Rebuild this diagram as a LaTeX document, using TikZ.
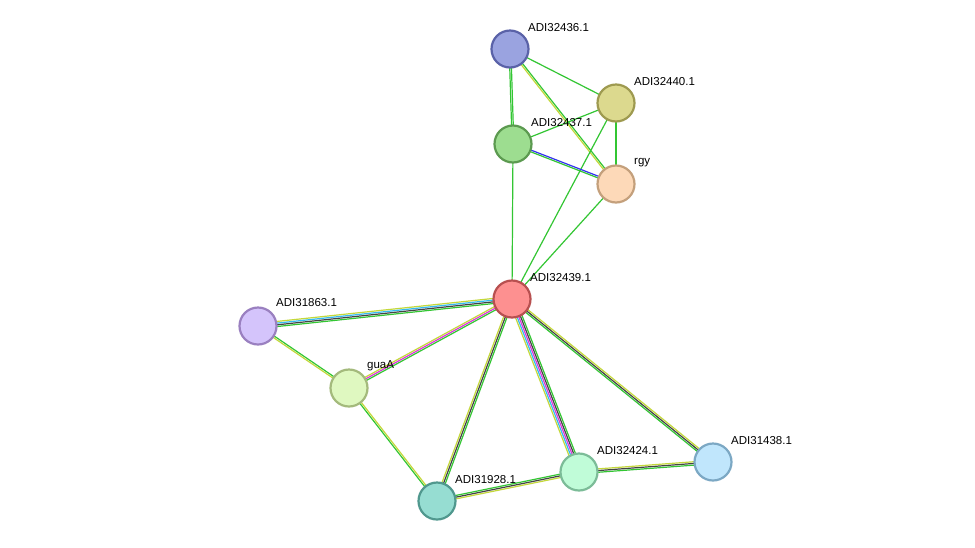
\documentclass[tikz,border=0pt]{standalone}
\usepackage{fontspec}
\setmainfont{Liberation Sans}
\usetikzlibrary{calc}
\definecolor{eg}{HTML}{33C633}
\definecolor{ek}{HTML}{444444}
\definecolor{ec}{HTML}{33BBEE}
\definecolor{em}{HTML}{DD33DD}
\definecolor{ey}{HTML}{C4D83A}
\definecolor{eb}{HTML}{3333EE}
\newcommand\edg[4]{%
  \foreach \cc [count=\i] in {#4} {%
    \pgfmathsetmacro\oo{(\i-(#3+1)/2)*1.7}%
    \draw[line width=1.2pt,\cc] ($(#1)!\oo pt!90:(#2)$) -- ($(#2)!\oo pt!-90:(#1)$);
  }}
\begin{document}
\begin{tikzpicture}[x=1pt,y=-1pt,
  prot/.style={circle,minimum size=37pt,inner sep=0pt,line width=2.2pt},
  lbl/.style={anchor=west,font=\fontsize{11.5}{12}\selectfont,inner sep=0pt}]
\useasboundingbox (0,0) rectangle (975,547);
\fill[white] (0,0) rectangle (975,547);
\coordinate (p36) at (510,49);
\coordinate (p40) at (616,103);
\coordinate (p37) at (513,144);
\coordinate (prgy) at (616,184);
\coordinate (p39) at (512,299);
\coordinate (p63) at (258,326);
\coordinate (pgua) at (349,388);
\coordinate (p28) at (437,501);
\coordinate (p24) at (579,472);
\coordinate (p38) at (713,462);
\edg{p36}{p37}{2}{eg,eg}
\edg{p36}{p40}{1}{eg}
\edg{p36}{prgy}{2}{ey,eg}
\edg{p40}{p37}{1}{eg}
\edg{p40}{prgy}{1}{eg}
\edg{p40}{p39}{1}{eg}
\edg{p37}{prgy}{2}{eg,eb}
\edg{p37}{p39}{1}{eg}
\edg{prgy}{p39}{1}{eg}
\edg{p39}{p63}{4}{ey,ec,ek,eg}
\edg{p39}{pgua}{3}{ey,em,eg}
\edg{p39}{p28}{3}{ey,ek,eg}
\edg{p39}{p24}{5}{ey,ec,em,ek,eg}
\edg{p39}{p38}{3}{eg,ek,ey}
\edg{p63}{pgua}{2}{ey,eg}
\edg{pgua}{p28}{2}{eg,ey}
\edg{p28}{p24}{3}{ey,ek,eg}
\edg{p24}{p38}{3}{eg,ek,ey}
\node[prot,fill={rgb,255:red,154;green,163;blue,224},draw={rgb,255:red,90;green,98;blue,168}] (n36) at (p36) {};
\node[prot,fill={rgb,255:red,220;green,217;blue,142},draw={rgb,255:red,158;green,154;blue,80}] (n40) at (p40) {};
\node[prot,fill={rgb,255:red,157;green,221;blue,144},draw={rgb,255:red,92;green,154;blue,80}] (n37) at (p37) {};
\node[prot,fill={rgb,255:red,253;green,217;blue,184},draw={rgb,255:red,196;green,160;blue,124}] (nrgy) at (prgy) {};
\node[prot,fill={rgb,255:red,253;green,144;blue,144},draw={rgb,255:red,184;green,80;blue,80}] (n39) at (p39) {};
\node[prot,fill={rgb,255:red,212;green,196;blue,251},draw={rgb,255:red,154;green,128;blue,192}] (n63) at (p63) {};
\node[prot,fill={rgb,255:red,223;green,248;blue,192},draw={rgb,255:red,164;green,186;blue,124}] (ngua) at (pgua) {};
\node[prot,fill={rgb,255:red,150;green,221;blue,210},draw={rgb,255:red,80;green,152;blue,142}] (n28) at (p28) {};
\node[prot,fill={rgb,255:red,192;green,252;blue,216},draw={rgb,255:red,124;green,188;blue,152}] (n24) at (p24) {};
\node[prot,fill={rgb,255:red,192;green,230;blue,252},draw={rgb,255:red,124;green,168;blue,196}] (n38) at (p38) {};
\node[lbl] (l36) at ($(p36)+(18,-21)$) {ADI32436.1};
\node[lbl] (l40) at ($(p40)+(18,-21)$) {ADI32440.1};
\node[lbl] (l37) at ($(p37)+(18,-21)$) {ADI32437.1};
\node[lbl] (lrgy) at ($(prgy)+(18,-21)$) {rgy};
\node[lbl] (l39) at ($(p39)+(18,-21)$) {ADI32439.1};
\node[lbl] (l63) at ($(p63)+(18,-23)$) {ADI31863.1};
\node[lbl] (lgua) at ($(pgua)+(18,-22)$) {guaA};
\node[lbl] (l28) at ($(p28)+(18,-21)$) {ADI31928.1};
\node[lbl] (l24) at ($(p24)+(18,-21)$) {ADI32424.1};
\node[lbl] (l38) at ($(p38)+(18,-21)$) {ADI31438.1};
\end{tikzpicture}
\end{document}
